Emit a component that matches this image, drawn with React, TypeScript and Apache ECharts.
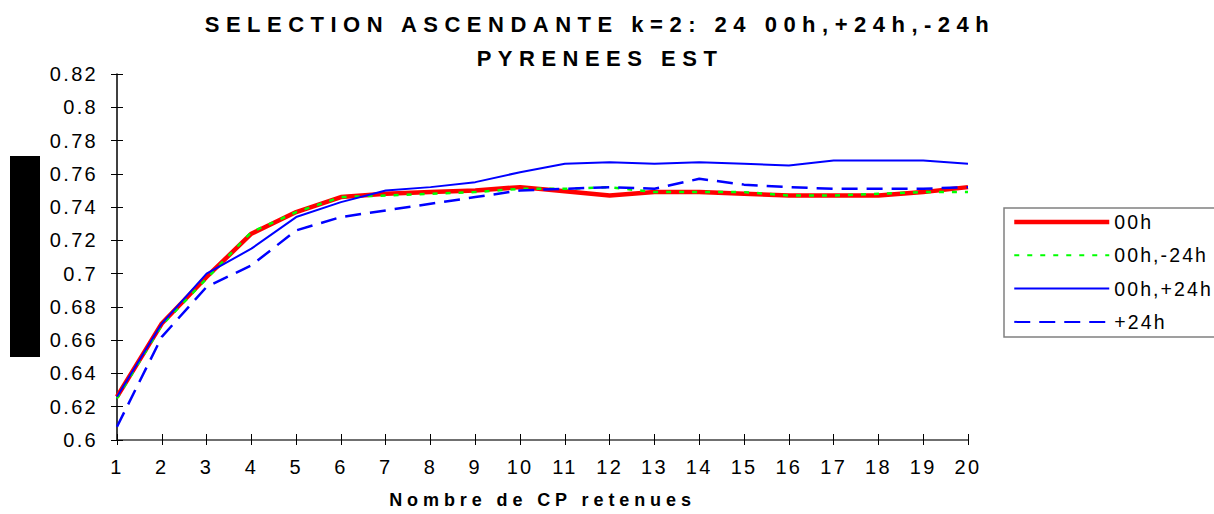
import React, { useEffect, useRef } from "react";
import * as echarts from "echarts";

const categories = ["1","2","3","4","5","6","7","8","9","10","11","12","13","14","15","16","17","18","19","20"];
const s00h = [0.626,0.670,0.698,0.724,0.737,0.746,0.748,0.749,0.750,0.752,0.7495,0.747,0.749,0.749,0.748,0.747,0.747,0.747,0.749,0.752];
const s00hM24 = [0.625,0.669,0.697,0.725,0.737,0.746,0.747,0.748,0.749,0.751,0.751,0.752,0.749,0.749,0.749,0.747,0.747,0.748,0.749,0.749];
const s00hP24 = [0.626,0.670,0.700,0.715,0.734,0.743,0.750,0.752,0.755,0.761,0.766,0.767,0.766,0.767,0.766,0.765,0.768,0.768,0.768,0.766];
const sP24 = [0.608,0.662,0.692,0.705,0.726,0.734,0.738,0.742,0.746,0.750,0.751,0.752,0.751,0.757,0.7535,0.752,0.751,0.751,0.751,0.752];
const seriesNames = ["00h", "00h,-24h", "00h,+24h", "+24h"];
const titleText = "SELECTION ASCENDANTE k=2: 24 00h,+24h,-24h\nPYRENEES EST";
const xName = "Nombre de CP retenues";

const FONT = "Liberation Sans";

export default function App() {
  const ref = useRef<HTMLDivElement>(null);
  useEffect(() => {
    if (!ref.current) return;
    const chart = echarts.init(ref.current, null, { renderer: "svg" });
    const yMin = 0.6, yMax = 0.82, yInt = 0.02;
    chart.setOption({
      animation: false,
      backgroundColor: "#ffffff",
      title: {
        text: titleText,
        left: 600,
        top: 7,
        padding: 0,
        textAlign: "center",
        textStyle: { fontFamily: FONT, fontWeight: "bold", fontSize: 22, color: "#000", lineHeight: 34.5 },
      },
      grid: { left: 117, right: 246, top: 74, bottom: 74, containLabel: false },
      legend: {
        orient: "vertical",
        left: 1004,
        top: 208,
        padding: [4, 160, 5, 8],
        itemWidth: 95,
        itemHeight: 14,
        itemGap: 13.3,
        borderColor: "#808080",
        borderWidth: 1.5,
        borderRadius: 0,
        backgroundColor: "#fff",
        itemStyle: { opacity: 0, borderWidth: 0 },
        textStyle: { fontFamily: FONT, fontSize: 19.5, color: "#000", lineHeight: 20 },
        data: [
          { name: seriesNames[0], lineStyle: { width: 4.5, color: "#ff0000" } },
          { name: seriesNames[1] },
          { name: seriesNames[2] },
          { name: seriesNames[3] },
        ],
      },
      xAxis: [
        {
          type: "category",
          data: categories,
          boundaryGap: false,
          name: xName,
          nameLocation: "middle",
          nameGap: 51,
          nameTextStyle: { fontFamily: FONT, fontWeight: "bold", fontSize: 18, color: "#000" },
          axisLine: { lineStyle: { color: "#404040", width: 1.5 } },
          axisTick: { show: true, length: 5, lineStyle: { color: "#000" } },
          axisLabel: { fontFamily: FONT, fontSize: 20, color: "#000", margin: 17, interval: 0 },
          splitLine: { show: false },
        },
        {
          type: "category",
          data: categories,
          boundaryGap: false,
          position: "bottom",
          axisLine: { show: false },
          axisTick: { show: true, inside: true, length: 6, lineStyle: { color: "#000" } },
          axisLabel: { show: false },
          splitLine: { show: false },
        },
      ],
      yAxis: [
        {
          type: "value",
          min: yMin,
          max: yMax,
          interval: yInt,
          axisLine: { show: true, lineStyle: { color: "#000", width: 1.5 } },
          axisTick: { show: true, length: 6, lineStyle: { color: "#000" } },
          axisLabel: {
            fontFamily: FONT,
            fontSize: 20,
            color: "#000",
            margin: 19,
            formatter: (v: number) => String(+v.toFixed(2)),
          },
          splitLine: { show: false },
        },
        {
          type: "value",
          min: yMin,
          max: yMax,
          interval: yInt,
          position: "left",
          axisLine: { show: false },
          axisTick: { show: true, inside: true, length: 6, lineStyle: { color: "#000" } },
          axisLabel: { show: false },
          splitLine: { show: false },
        },
      ],
      graphic: [
        { type: "rect", shape: { x: 10, y: 156, width: 30, height: 201 }, style: { fill: "#000" } },
      ],
      series: [
        {
          name: seriesNames[0],
          type: "line",
          data: s00h,
          symbol: "none",
          lineStyle: { color: "#ff0000", width: 4.5 },
          itemStyle: { color: "#ff0000" },
          z: 2,
        },
        {
          name: seriesNames[1],
          type: "line",
          data: s00hM24,
          symbol: "none",
          lineStyle: { color: "#00ff00", width: 2.5, type: [5, 8] },
          itemStyle: { color: "#00ff00" },
          z: 3,
        },
        {
          name: seriesNames[2],
          type: "line",
          data: s00hP24,
          symbol: "none",
          lineStyle: { color: "#0000ff", width: 2 },
          itemStyle: { color: "#0000ff" },
          z: 4,
        },
        {
          name: seriesNames[3],
          type: "line",
          data: sP24,
          symbol: "none",
          lineStyle: { color: "#0000ff", width: 2.5, type: [16, 9] },
          itemStyle: { color: "#0000ff" },
          z: 5,
        },
      ],
    });
    return () => chart.dispose();
  }, []);
  return (
    <>
      <style>{`
        .chartbox text[style*="22px"] { letter-spacing: 6.5px; }
        .chartbox text[style*="19.5px"] { letter-spacing: 2.1px; }
        .chartbox text[style*=" 20px"], .chartbox text[style*=":20px"] { letter-spacing: 2.3px; }
        .chartbox text[style*="18px"] { letter-spacing: 4.9px; }
      `}</style>
      <div
        ref={ref}
        className="chartbox"
        style={{ position: "fixed", left: 0, top: 0, width: 1214, height: 514, background: "#fff" }}
      />
    </>
  );
}
